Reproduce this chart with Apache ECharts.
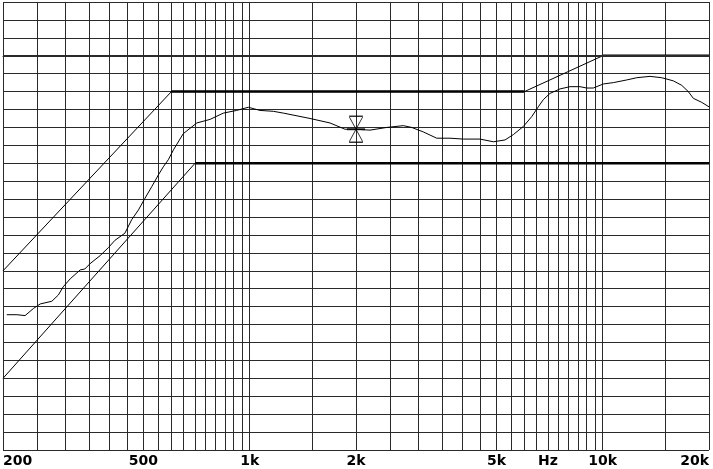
<!DOCTYPE html>
<html><head><meta charset="utf-8">
<script src="https://cdn.jsdelivr.net/npm/echarts@6/dist/echarts.min.js"></script>
<style>html,body{margin:0;padding:0;background:#fff}#c{width:713px;height:469px}</style>
</head><body><div id="c"></div>
<script>
// Measured response (Hz, dB)
const freqs = [205, 219, 231, 244, 255, 275, 287, 296, 310, 331, 341, 353, 377, 398, 415, 443, 463, 484, 505, 528, 551, 569, 588, 608, 648, 708, 772, 842, 918, 991, 1069, 1166, 1245, 1482, 1688, 1861, 2000, 2191, 2444, 2723, 2876, 3102, 3386, 3693, 4027, 4492, 4899, 5285, 5581, 5956, 6291, 6568, 6786, 7089, 7569, 8077, 8621, 9006, 9403, 10037, 10715, 11696, 12484, 13613, 14693, 15846, 16738, 17475, 18055, 19073, 20000];
const levels = [-28.9, -28.9, -29.0, -28.2, -27.7, -27.4, -26.7, -25.8, -24.9, -23.9, -23.8, -23.2, -22.3, -21.4, -20.6, -19.8, -18.3, -17.2, -15.9, -14.6, -13.3, -12.4, -11.6, -10.5, -8.7, -7.5, -7.1, -6.4, -6.1, -5.75, -6.1, -6.2, -6.4, -7.0, -7.5, -8.2, -8.2, -8.3, -8.0, -7.8, -8.0, -8.5, -9.2, -9.2, -9.3, -9.3, -9.6, -9.4, -8.8, -7.9, -6.8, -5.7, -4.9, -4.2, -3.7, -3.45, -3.45, -3.6, -3.6, -3.15, -3.0, -2.7, -2.45, -2.3, -2.45, -2.8, -3.3, -4.0, -4.75, -5.2, -5.7];

// Tolerance limits
const upperLimitFreqs = [200, 600, 6000, 10000, 20000];
const upperLimitLevels = [-24, -4, -4, 0, 0];
const lowerLimitFreqs = [200, 700, 20000];
const lowerLimitLevels = [-36, -12, -12];

// Cursor
const cursorFreq = 2000;
const cursorLevel = -8.2;

// Axis ticks
const gridFreqs = [200, 250, 300, 350, 400, 450, 500, 550, 600, 650, 700, 750, 800, 850, 900, 950, 1000,
  1500, 2000, 2500, 3000, 3500, 4000, 4500, 5000, 5500, 6000, 6500, 7000, 7500, 8000, 8500, 9000, 9500, 10000,
  15000, 20000];
const labelFreqs = [200, 500, 1000, 2000, 5000, 7000, 10000, 20000];
const labelTexts = ['200', '500', '1k', '2k', '5k', 'Hz', '10k', '20k'];

const zip = (a, b) => a.map((v, i) => [v, b[i]]);
function flatSegments(fs, ls) {
  const out = [];
  for (let i = 0; i < fs.length - 1; i++) {
    if (ls[i] === ls[i + 1]) { out.push([fs[i], ls[i]], [fs[i + 1], ls[i + 1]], null); }
  }
  return out;
}
const black = '#000';
const chart = echarts.init(document.getElementById('c'), null, { renderer: 'canvas' });
chart.setOption({
  animation: false,
  backgroundColor: '#fff',
  grid: { left: 3, right: 4, top: 2, bottom: 19, containLabel: false },
  xAxis: {
    type: 'log', logBase: 10, min: 200, max: 20000,
    axisLine: { show: true, lineStyle: { color: '#222', width: 1 } },
    axisTick: { show: false, customValues: gridFreqs },
    splitLine: { show: true, lineStyle: { color: '#2a2a2a', width: 1 } },
    axisLabel: {
      customValues: labelFreqs,
      formatter: v => { const i = labelFreqs.indexOf(Math.round(v)); return i >= 0 ? labelTexts[i] : ''; },
      color: '#000', fontFamily: 'DejaVu Sans', fontWeight: 'bold', fontSize: 14, margin: 4,
      alignMinLabel: 'left', alignMaxLabel: 'right', showMinLabel: true, showMaxLabel: true
    }
  },
  yAxis: {
    type: 'value', min: -44, max: 6, interval: 2,
    axisLine: { show: false }, axisTick: { show: false }, axisLabel: { show: false },
    splitLine: { show: true, lineStyle: { color: '#2a2a2a', width: 1 } }
  },
  series: [
    {
      type: 'line', data: zip(freqs, levels), showSymbol: false, symbol: 'none',
      lineStyle: { color: black, width: 1 }, z: 5,
      markLine: { silent: true, symbol: 'none', label: { show: false },
        lineStyle: { color: '#2a2a2a', width: 2, type: 'solid' }, data: [{ yAxis: 0 }] }
    },
    { type: 'line', data: zip(upperLimitFreqs, upperLimitLevels), symbol: 'none', lineStyle: { color: black, width: 1 }, z: 4 },
    { type: 'line', data: zip(lowerLimitFreqs, lowerLimitLevels), symbol: 'none', lineStyle: { color: black, width: 1 }, z: 4 },
    { type: 'line', data: flatSegments(upperLimitFreqs, upperLimitLevels), symbol: 'none', connectNulls: false, lineStyle: { color: black, width: 2.5 }, z: 4 },
    { type: 'line', data: flatSegments(lowerLimitFreqs, lowerLimitLevels), symbol: 'none', connectNulls: false, lineStyle: { color: black, width: 2.5 }, z: 4 },
    {
      type: 'scatter', data: [[cursorFreq, cursorLevel]], z: 6,
      symbol: 'path://M1,0 L13,0 L13,1 L7,13 L13,25 L13,26 L1,26 L1,25 L7,13 L1,1 Z',
      symbolSize: [13, 26],
      itemStyle: { color: 'rgba(0,0,0,0)', borderColor: black, borderWidth: 1 }
    },
    {
      type: 'scatter', data: [[cursorFreq, cursorLevel]], z: 6,
      symbol: 'rect', symbolSize: [18, 2], itemStyle: { color: black }
    }
  ]
});
</script>
</body></html>
